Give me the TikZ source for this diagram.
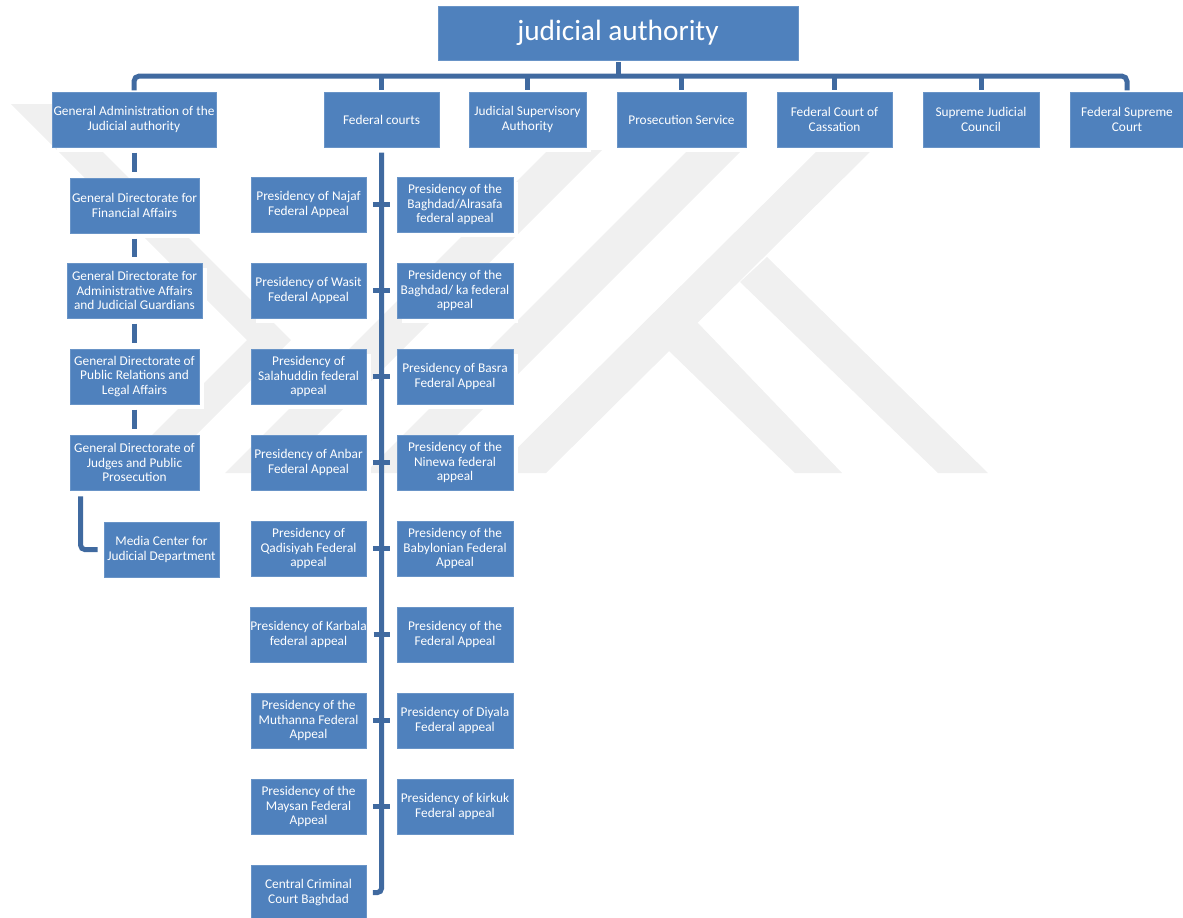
\documentclass[tikz,border=0pt]{standalone}
\usepackage{fontspec}
\setmainfont{Carlito}
\usetikzlibrary{shadows}
\definecolor{boxblue}{RGB}{79,129,189}
\definecolor{connblue}{RGB}{64,106,160}
\definecolor{wm}{RGB}{240,240,240}
\tikzset{
  box/.style={rectangle, fill=boxblue, draw=boxblue!85!white, line width=0.4pt,
    text=white, align=center, inner sep=0pt, minimum height=55*0.75pt,
    font=\fontsize{10pt}{10.9pt}\selectfont,
    drop shadow={fill=white, opacity=1, shadow xshift=3.5pt, shadow yshift=-3.5pt}},
  conn/.style={draw=connblue, line width=3.75pt},
  wmark/.style={fill=wm, draw=none},
}
\begin{document}
\begin{tikzpicture}[x=0.75pt,y=-0.75pt]
\useasboundingbox (0,0) rectangle (1183,918);
% faint watermark
\fill[wmark] (11,104) -- (55,104) -- (291,340) -- (158,473) -- (114,473) -- (247,340) -- cycle;
\fill[wmark] (548,150) -- (602,150) -- (279,473) -- (225,473) -- cycle;
\fill[wmark] (688,150) -- (742,150) -- (419,473) -- (365,473) -- cycle;
\fill[wmark] (818,150) -- (872,150) -- (546,473) -- (492,473) -- cycle;
\fill[wmark] (697,322) -- (842,473) -- (795,473) -- (668,350) -- cycle;
\fill[wmark] (767,257) -- (988,473) -- (938,473) -- (740,282) -- cycle;

% title
\node[box, minimum width=360*0.75pt, minimum height=54*0.75pt, font=\fontsize{22pt}{26pt}\selectfont] (title) at (618,33) {judicial authority};

% top row
\node[box, minimum width=164*0.75pt] (ga)  at (134,119.5)   {General Administration of the\\Judicial authority};
\node[box, minimum width=115*0.75pt] (fc)  at (381.5,119.5) {Federal courts};
\node[box, minimum width=117*0.75pt] (jsa) at (527.5,119.5) {Judicial Supervisory\\Authority};
\node[box, minimum width=129*0.75pt] (ps)  at (681.5,119.5) {Prosecution Service};
\node[box, minimum width=115*0.75pt] (fcc) at (834.5,119.5) {Federal Court of\\Cassation};
\node[box, minimum width=116*0.75pt] (sjc) at (981,119.5)   {Supreme Judicial\\Council};
\node[box, minimum width=114*0.75pt] (fsc) at (1127,119.5)  {Federal Supreme\\Court};

% left column
\node[box, minimum width=129*0.75pt] (fin)   at (134.5,205.5) {General Directorate for\\Financial Affairs};
\node[box, minimum width=135*0.75pt] (adm)   at (134.5,290.5) {General Directorate for\\Administrative Affairs\\and Judicial Guardians};
\node[box, minimum width=129*0.75pt] (pr)    at (134.5,376.5) {General Directorate of\\Public Relations and\\Legal Affairs};
\node[box, minimum width=129*0.75pt] (jud)   at (134.5,462.5) {General Directorate of\\Judges and Public\\Prosecution};
\node[box, minimum width=115*0.75pt] (media) at (161.5,549.5) {Media Center for\\Judicial Department};

% federal courts, left column
\node[box, minimum width=115*0.75pt] (L1) at (308.5,204.5) {Presidency of Najaf\\Federal Appeal};
\node[box, minimum width=115*0.75pt] (L2) at (308.5,290.5) {Presidency of Wasit\\Federal Appeal};
\node[box, minimum width=115*0.75pt] (L3) at (308.5,376.5) {Presidency of\\Salahuddin federal\\appeal};
\node[box, minimum width=115*0.75pt] (L4) at (308.5,462.5) {Presidency of Anbar\\Federal Appeal};
\node[box, minimum width=115*0.75pt] (L5) at (308.5,548.5) {Presidency of\\Qadisiyah Federal\\appeal};
\node[box, minimum width=115*0.75pt] (L6) at (308.5,634.5) {Presidency of Karbala\\federal appeal};
\node[box, minimum width=115*0.75pt] (L7) at (308.5,720.5) {Presidency of the\\Muthanna Federal\\Appeal};
\node[box, minimum width=115*0.75pt] (L8) at (308.5,806.5) {Presidency of the\\Maysan Federal\\Appeal};
\node[box, minimum width=115*0.75pt] (crim) at (308.5,892.5) {Central Criminal\\Court Baghdad};

% federal courts, right column
\node[box, minimum width=116*0.75pt] (R1) at (455,204.5) {Presidency of the\\Baghdad/Alrasafa\\federal appeal};
\node[box, minimum width=116*0.75pt] (R2) at (455,290.5) {Presidency of the\\Baghdad/ ka federal\\appeal};
\node[box, minimum width=116*0.75pt] (R3) at (455,376.5) {Presidency of Basra\\Federal Appeal};
\node[box, minimum width=116*0.75pt] (R4) at (455,462.5) {Presidency of the\\Ninewa federal\\appeal};
\node[box, minimum width=116*0.75pt] (R5) at (455,548.5) {Presidency of the\\Babylonian Federal\\Appeal};
\node[box, minimum width=116*0.75pt] (R6) at (455,634.5) {Presidency of the\\Federal Appeal};
\node[box, minimum width=116*0.75pt] (R7) at (455,720.5) {Presidency of Diyala\\Federal appeal};
\node[box, minimum width=116*0.75pt] (R8) at (455,806.5) {Presidency of kirkuk\\Federal appeal};

% top bus
\coordinate (busL) at (134,76);
\draw[conn, shorten <=1.5pt] (title.south) -- (title.south |- busL);
\draw[conn, rounded corners=4pt, shorten <=1pt, shorten >=1pt] (ga.north) -- (ga.north |- busL) -- (fsc.north |- busL) -- (fsc.north);
\foreach \n in {fc,jsa,ps,fcc,sjc}
  \draw[conn, shorten >=1.5pt] (\n.north |- busL) -- (\n.north);

% left column connectors
\draw[conn, shorten <=4pt, shorten >=4pt] (ga.south) -- (ga.south |- fin.north);
\draw[conn, shorten <=4pt, shorten >=4pt] (fin.south) -- (adm.north);
\draw[conn, shorten <=4pt, shorten >=4pt] (adm.south) -- (pr.north);
\draw[conn, shorten <=4pt, shorten >=4pt] (pr.south) -- (jud.north);
\draw[conn, rounded corners=3pt] (jud.south west) ++(11,6) |- ([xshift=-4.5pt]media.west);

% federal courts spine
\draw[conn, rounded corners=3pt] ([yshift=-4pt]fc.south) |- ([xshift=5pt]crim.east);
\foreach \i in {1,...,8}
  \draw[conn] ([xshift=5pt]L\i.east) -- ([xshift=-5pt]R\i.west);
\end{tikzpicture}
\end{document}
